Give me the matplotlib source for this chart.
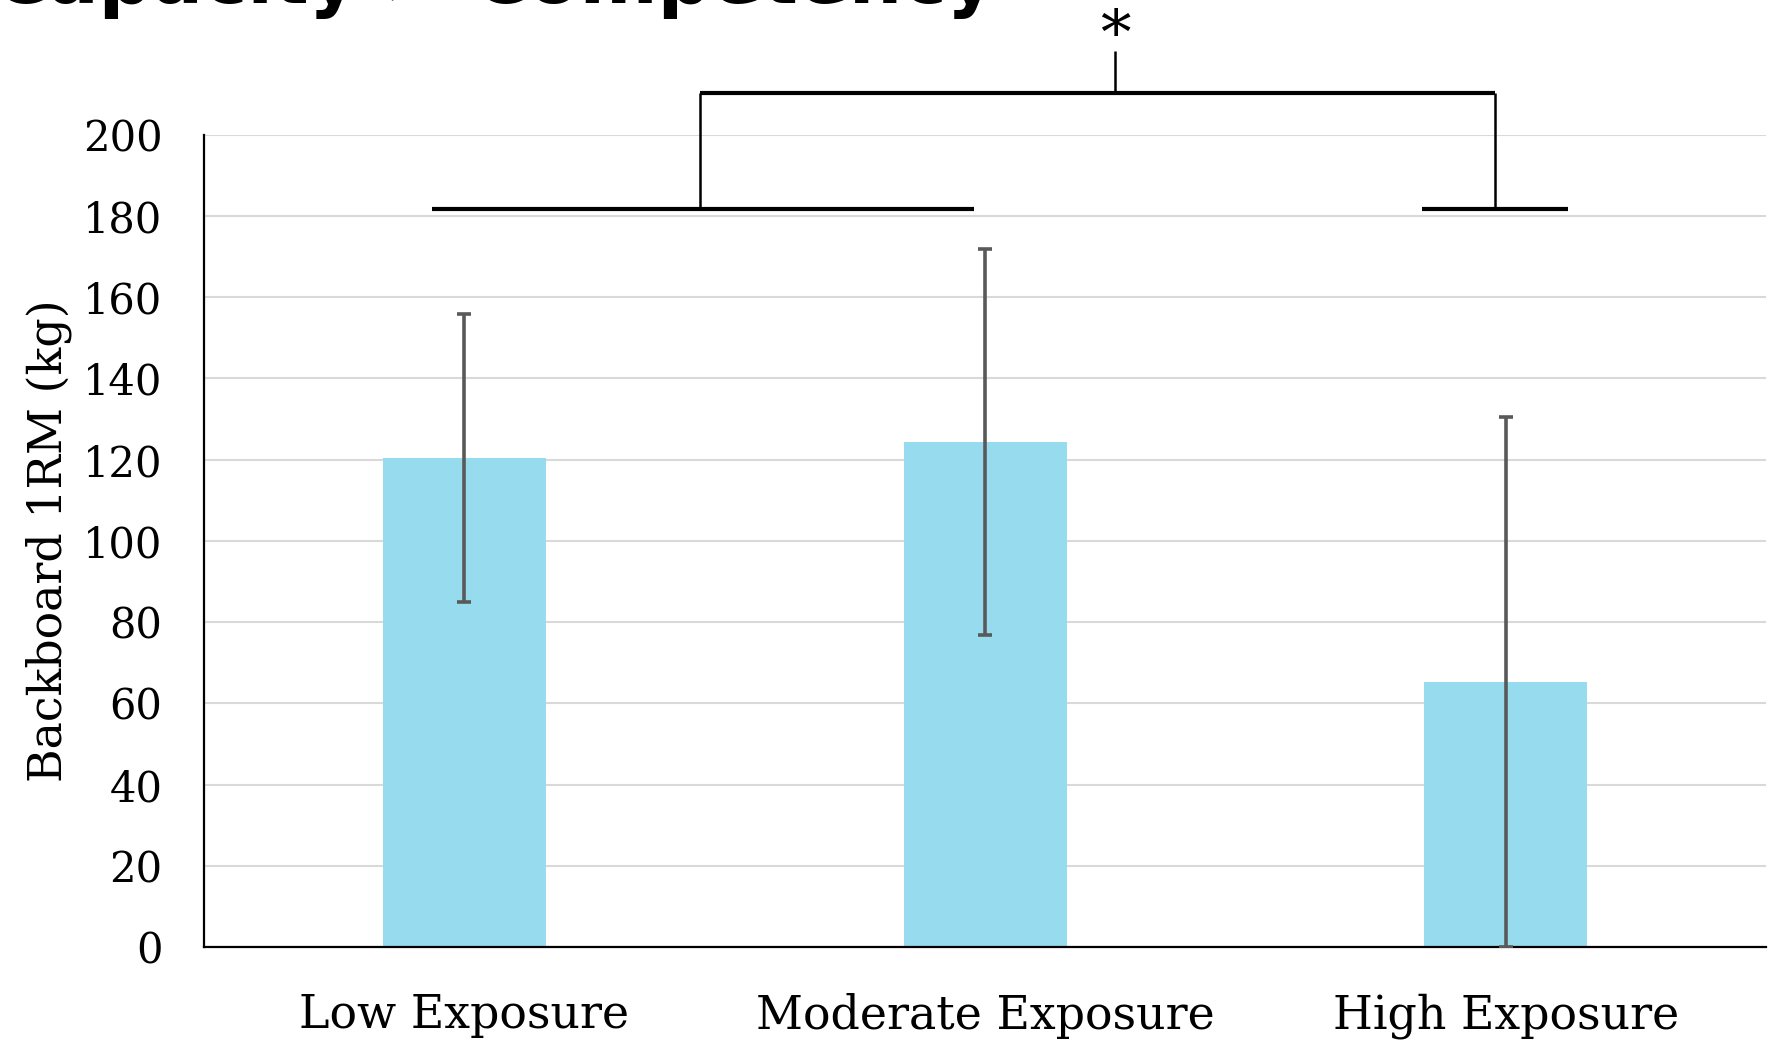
import numpy as np
import matplotlib.pyplot as plt

# data
groups = ['Low Exposure', 'Moderate Exposure', 'High Exposure']
means = [120.4, 124.3, 65.3]
sd = [35.5, 47.5, 65.3]
yticks = [0, 20, 40, 60, 80, 100, 120, 140, 160, 180, 200]

bar_color = '#97dcee'
err_color = '#595959'
serif = 'DejaVu Serif'

fig = plt.figure(figsize=(17.75, 10.41), dpi=100)
ax = fig.add_axes([0.115, 0.0903, 0.88, 0.7803])

x = np.arange(len(groups))
ax.bar(x, means, width=0.313, color=bar_color, zorder=2)
ax.errorbar(x, means, yerr=sd, fmt='none', ecolor=err_color, elinewidth=2.6,
            capsize=5, capthick=2.6, zorder=3)

ax.set_xlim(-0.5, 2.5)
ax.set_ylim(0, 200)
ax.set_yticks(yticks)
ax.set_xticks(x)
ax.set_xticklabels(groups, family=serif, fontsize=33)
for lab in ax.get_yticklabels():
    lab.set_family(serif)
    lab.set_fontsize(30)
ax.tick_params(axis='y', length=0, pad=30)
ax.tick_params(axis='x', length=0, pad=33)
ax.grid(axis='y', color='#d9d9d9', lw=1.5, zorder=0)
ax.set_axisbelow(True)
for s in ['top', 'right']:
    ax.spines[s].set_visible(False)
ax.spines['left'].set_linewidth(1.6)
ax.spines['bottom'].set_linewidth(1.6)
ax.set_ylabel('Backboard 1RM (kg)', family=serif, fontsize=33, labelpad=8)

# significance bracket
k = dict(color='black', clip_on=False, zorder=4, solid_capstyle='butt')
ax.plot([-0.063, 0.978], [181.6, 181.6], lw=3, **k)
ax.plot([1.839, 2.120], [181.6, 181.6], lw=3, **k)
ax.plot([0.452, 0.452], [181.6, 210.3], lw=1.8, **k)
ax.plot([1.980, 1.980], [181.6, 210.3], lw=1.8, **k)
ax.plot([0.452, 1.980], [210.3, 210.3], lw=3, **k)
ax.plot([1.25, 1.25], [210.3, 220.6], lw=1.8, **k)
ax.text(1.25, 219.8, '*', family=serif, fontsize=44, ha='center',
        va='baseline', clip_on=False)

# title, cut off at the top edge
fig.text(-0.004, 0.997, 'Capacity > Competency', family='DejaVu Sans',
         weight='heavy', fontsize=54, ha='left', va='baseline')

fig.savefig('out.png', dpi=100)
